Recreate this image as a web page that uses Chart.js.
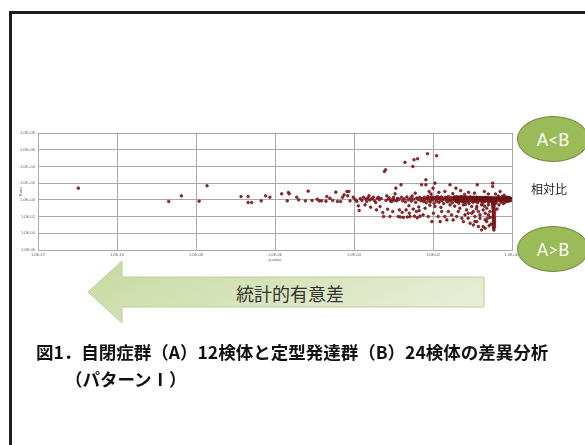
<!DOCTYPE html>
<html lang="ja">
<head>
<meta charset="utf-8">
<script src="https://cdn.jsdelivr.net/npm/chart.js@4/dist/chart.umd.min.js"></script>
<style>
html,body{margin:0;padding:0;background:#fff;}
body{width:585px;height:445px;overflow:hidden;position:relative;font-family:"Noto Sans CJK JP","Noto Sans",sans-serif;}
#plot{position:absolute;left:0;top:0;}
.frame{position:absolute;left:9px;top:11px;width:700px;height:600px;border:3px solid #1e1e1e;box-sizing:border-box;}
.oval{position:absolute;left:517px;width:72px;height:46px;border-radius:50%;background:#9bbb59;border:1.5px solid #71893f;box-sizing:border-box;color:#fff;font:17px Lato,"Open Sans",sans-serif;display:flex;align-items:center;justify-content:center;}
#ovalLess{top:116px;}
#ovalMore{top:226px;}
#ratioLabel{position:absolute;left:531px;top:180px;font-size:12px;color:#222;}
#arrowText{position:absolute;left:190px;width:200px;top:280px;text-align:center;font-size:18px;color:#333;}
.caption{position:absolute;font-weight:700;font-size:17.5px;color:#111;white-space:nowrap;}
#cap1{left:36px;top:339px;}
#cap2{left:65px;top:366px;}
</style>
</head>
<body>
<div class="frame"></div>
<svg style="position:absolute;left:0;top:0" width="585" height="445">
  <defs>
    <linearGradient id="arrowFill" x1="0" y1="0.3" x2="1" y2="0.7">
      <stop offset="0" stop-color="#c9dba4"/>
      <stop offset="1" stop-color="#e8efd9"/>
    </linearGradient>
  </defs>
  <polygon points="88,292 122,261 122,277 484,277 484,307 122,307 122,323" fill="url(#arrowFill)" stroke="#bccf97" stroke-width="1"/>
</svg>
<div id="arrowText">統計的有意差</div>
<canvas id="plot" width="585" height="445"></canvas>
<div class="oval" id="ovalLess">A&lt;B</div>
<div id="ratioLabel">相対比</div>
<div class="oval" id="ovalMore">A&gt;B</div>
<div class="caption" id="cap1">図1．自閉症群（A）12検体と定型発達群（B）24検体の差異分析</div>
<div class="caption" id="cap2">（パターンⅠ）</div>
<script>
// Tick positions, as powers of ten
const pTickExponents = [-12, -10, -8, -6, -4, -2, 0];
const ratioTickExponents = [-6, -4, -2, 0, 2, 4, 6, 8];

// Each entry: [log10(p-value), log10(ratio A/B)]
// isolated features with small p-values
const sparsePairs = [
  [-10.98,1.40],[-8.69,-0.20],[-8.37,0.48],[-7.92,-0.16],[-7.72,1.68],
  [-6.86,0.40],[-6.68,0.40],[-6.68,-0.32],[-6.59,-0.32],[-6.35,-0.12],[-6.24,0.48],[-6.13,0.32],
  [-5.83,0.72],[-5.69,-0.12],[-5.66,0.88],[-5.64,0.72],[-5.45,0.32],[-5.40,0.00],[-5.23,-0.12],[-5.16,1.04],
  [-5.06,-0.08],[-4.93,0.08],[-4.88,-0.12],[-4.82,-0.12],[-4.71,-0.16],[-4.69,0.40],[-4.61,0.20],
  [-4.54,-0.08],[-4.46,0.92],[-4.42,-0.20],[-4.34,-0.20]
];

// features between p = 1e-4.3 and 1e-2.3
const midPairs = [
  [-4.29,0.32],[-4.25,0.60],[-4.18,1.00],[-4.13,1.00],[-4.16,0.48],[-4.10,-0.12],[-4.02,0.32],[-3.97,0.05],
  [-3.93,-0.18],[-3.89,-0.72],[-3.87,-1.28],[-3.84,0.15],[-3.80,-0.05],[-3.76,0.32],[-3.72,-0.60],[-3.70,0.10],
  [-3.68,-0.20],[-3.65,0.22],[-3.62,0.48],[-3.60,-0.02],[-3.58,-0.88],[-3.55,0.12],[-3.51,0.32],[-3.48,-0.10],
  [-3.45,-0.32],[-3.43,-1.20],[-3.41,0.20],[-3.38,0.32],[-3.36,0.02],[-3.34,-0.80],[-3.31,0.15],[-3.27,-1.52],
  [-3.25,-2.00],[-3.23,3.40],[-3.20,3.60],[-3.19,-0.08],[-3.17,0.48],[-3.15,-1.12],[-3.13,0.10],[-3.11,0.25],
  [-3.09,-2.00],[-3.07,-0.15],[-3.05,-0.20],[-3.03,0.05],[-3.02,-1.40],[-3.00,0.30],[-2.98,-0.05],[-2.96,0.72],
  [-2.94,1.40],[-2.92,-0.12],[-2.90,0.18],[-2.88,-2.00],[-2.86,0.05],[-2.85,-1.20],[-2.83,-2.05],[-2.81,1.80],
  [-2.80,0.30],[-2.78,-1.50],[-2.77,-0.10],[-2.75,-2.10],[-2.73,0.12],[-2.71,4.48],[-2.70,-0.25],[-2.68,-1.20],
  [-2.66,0.35],[-2.65,-2.05],[-2.63,0.00],[-2.61,-0.70],[-2.60,-1.60],[-2.58,-2.00],[-2.57,0.20],[-2.55,-0.15],
  [-2.53,0.45],[-2.51,4.00],[-2.50,-1.10],[-2.49,0.08],[-2.48,4.80],[-2.47,-1.95],[-2.45,0.80],[-2.44,-0.30],
  [-2.42,-1.40],[-2.41,0.22],[-2.40,-2.15],[-2.39,4.92],[-2.38,0.05],[-2.36,-0.85],[-2.35,-1.30],[-2.34,0.30],
  [-2.33,-1.95],[-2.31,-0.10],[-2.29,1.80],[-2.28,0.15]
];

// higher ratios among p > 1e-2.3
const upperPairs = [
  [-2.14,5.52],[-1.91,5.28],[-2.18,2.40],[-2.18,1.80],[-1.95,2.00],[-2.00,1.40],[-1.57,1.80],[-1.42,1.40],
  [-0.88,1.80],[-0.49,2.00],[-0.49,1.60],[-1.70,1.00],[-1.30,1.10],[-1.10,0.90],[-0.70,1.00],[-2.10,1.00],
  [-1.85,0.90],[-2.05,0.70],[-1.50,0.75],[-1.20,0.65],[-0.95,0.80],[-0.60,0.70],[-0.42,0.70]
];

// lower ratios among p > 1e-2.3
const lowerPairs = [
  [-2.25,-1.80],[-2.20,-1.00],[-2.12,-2.00],[-2.03,-2.60],[-1.99,-1.60],[-1.95,-0.80],[-1.87,-2.00],[-1.82,-2.60],
  [-1.78,-1.40],[-1.70,-2.00],[-1.65,-2.40],[-1.61,-1.40],[-1.57,-0.60],[-1.53,-1.80],[-1.49,-2.40],[-1.40,-2.00],
  [-1.36,-1.40],[-1.32,-1.00],[-1.27,-2.20],[-1.23,-2.60],[-1.23,-0.60],[-1.19,-1.80],[-1.15,-1.20],[-1.11,-2.20],
  [-1.11,-1.60],[-1.06,-2.80],[-1.02,-1.60],[-1.02,-0.80],[-0.98,-3.00],[-0.98,-1.40],[-0.94,-2.00],[-0.94,-2.60],
  [-0.89,-2.60],[-0.89,-0.80],[-0.85,-1.40],[-0.85,-3.20],[-0.81,-2.20],[-0.81,-1.80],[-0.77,-3.60],[-0.77,-0.60],
  [-0.73,-3.20],[-0.73,-1.20],[-0.68,-2.40],[-0.68,-1.60],[-0.68,-3.40],[-0.64,-2.60],[-0.64,-1.00],[-0.60,-1.80],
  [-0.60,-0.60],[-0.56,-1.40],[-2.08,-0.65],[-1.80,-0.90],[-1.45,-0.75],[-1.18,-0.55],[-0.90,-1.05],[-0.70,-0.75],
  [-0.55,-2.10],[-0.53,-2.90],[-0.58,-3.10],[-0.62,-2.20]
];

// ratios close to 1 for p > 1e-2.3
const bandPairs = [
  [-2.26,0.10],[-2.24,-0.20],[-2.22,0.30],[-2.20,0.02],[-2.17,-0.35],[-2.15,0.18],[-2.13,0.40],[-2.11,-0.08],
  [-2.09,0.25],[-2.07,-0.25],[-2.05,0.12],[-2.03,0.35],[-2.01,-0.02],[-1.99,0.20],[-1.97,-0.40],[-1.95,0.30],
  [-1.93,0.05],[-1.91,-0.15],[-1.89,0.40],[-1.87,0.15],[-1.85,-0.30],[-1.83,0.25],[-1.81,0.00],[-1.79,0.35],
  [-1.77,-0.10],[-1.75,0.20],[-1.73,-0.45],[-1.71,0.10],[-1.69,0.30],[-1.67,-0.05],[-1.65,0.22],[-1.63,-0.25],
  [-1.61,0.40],[-1.59,0.08],[-1.57,-0.12],[-1.55,0.28],[-1.53,0.02],[-1.51,-0.35],[-1.49,0.18],[-1.47,0.35],
  [-1.45,-0.05],[-1.43,0.12],[-1.41,-0.20],[-1.39,0.30],[-1.37,0.05],[-1.35,-0.40],[-1.33,0.20],[-1.31,-0.08],
  [-1.29,0.38],[-1.27,0.10],[-1.25,-0.22],[-1.23,0.25],[-1.21,0.00],[-1.19,-0.30],[-1.17,0.32],[-1.15,0.08],
  [-1.13,-0.15],[-1.11,0.22],[-1.09,-0.45],[-1.07,0.15],[-1.05,0.35],[-1.03,-0.05],[-1.01,0.18],[-0.99,-0.28],
  [-0.97,0.28],[-0.95,0.02],[-0.93,-0.18],[-0.91,0.30],[-0.89,0.10],[-0.87,-0.35],[-0.85,0.20],[-0.83,-0.02],
  [-0.81,0.26],[-0.79,-0.12],[-0.77,0.12],[-0.75,-0.40],[-0.73,0.22],[-0.71,0.05],[-0.69,-0.20],[-0.67,0.30],
  [-0.65,0.08],[-0.63,-0.10],[-0.61,0.18],[-0.59,-0.30],[-0.57,0.12],[-0.55,0.00],[-0.53,0.22],[-0.51,-0.15]
];

// the densest run of features, p from 10^-1.44 to 1
const coreLogP = [
  -1.44,-1.41,-1.38,-1.35,-1.32,-1.29,-1.26,-1.23,-1.20,-1.17,-1.14,-1.11,-1.08,-1.05,-1.02,-0.99,-0.96,
  -0.93,-0.90,-0.87,-0.84,-0.81,-0.78,-0.75,-0.72,-0.69,-0.66,-0.63,-0.60,-0.57,-0.54,-0.51,-0.48,-0.45,
  -0.42,-0.39,-0.36,-0.33,-0.30,-0.27,-0.24,-0.21,-0.18,-0.15,-0.12,-0.09,-0.06,-0.03,0.00
];
const coreUpperLogR = [
  0.34,0.31,0.36,0.30,0.33,0.29,0.34,0.31,0.28,0.32,0.30,0.27,0.31,0.29,0.26,0.30,0.28,
  0.25,0.29,0.27,0.24,0.28,0.26,0.24,0.27,0.25,0.23,0.26,0.24,0.22,0.25,0.23,0.21,0.24,
  0.22,0.20,0.23,0.21,0.19,0.22,0.20,0.18,0.21,0.19,0.17,0.20,0.18,0.16,0.15
];
const coreMidLogR = [
  0.14,0.10,0.16,0.12,0.09,0.15,0.11,0.13,0.08,0.14,0.10,0.12,0.09,0.13,0.11,0.08,0.12,
  0.10,0.13,0.09,0.11,0.08,0.12,0.10,0.09,0.11,0.08,0.10,0.12,0.09,0.11,0.08,0.10,0.09,
  0.11,0.08,0.10,0.09,0.07,0.10,0.08,0.09,0.07,0.09,0.08,0.07,0.08,0.07,0.07
];
const coreLowerLogR = [
  -0.08,-0.12,-0.05,-0.10,-0.14,-0.06,-0.09,-0.12,-0.04,-0.08,-0.11,-0.05,-0.09,-0.07,-0.12,-0.04,-0.08,
  -0.10,-0.05,-0.07,-0.09,-0.04,-0.06,-0.08,-0.03,-0.06,-0.08,-0.04,-0.05,-0.07,-0.03,-0.05,-0.06,-0.02,
  -0.04,-0.05,-0.02,-0.03,-0.04,-0.01,-0.03,-0.02,0.00,-0.02,0.00,0.01,0.00,0.02,0.03
];

// falling run of ratios near p = 0.33
const streakPairs = [
  [-0.51,-0.15],[-0.50,-0.30],[-0.49,-0.45],[-0.49,-0.60],[-0.48,-0.75],[-0.48,-0.90],[-0.48,-1.05],[-0.47,-1.20],
  [-0.47,-1.35],[-0.47,-1.50],[-0.47,-1.65],[-0.47,-1.80],[-0.47,-1.95],[-0.46,-2.10],[-0.46,-2.25],[-0.46,-2.40],
  [-0.46,-2.55],[-0.46,-2.70],[-0.46,-2.85],[-0.46,-3.00],[-0.46,-3.15],[-0.46,-3.30],[-0.46,-3.45],[-0.46,-3.60],
  [-0.44,-0.20],[-0.44,-0.50],[-0.45,-0.80],[-0.45,-1.10],[-0.44,-1.40],[-0.45,-1.70],[-0.44,-2.00],[-0.45,-2.30],
  [-0.44,-2.60],[-0.45,-2.90],[-0.44,-3.20]
];

// remaining features closest to p = 1
const tailPairs = [
  [-0.15,0.32],[-0.12,0.30],[-0.09,0.27],[-0.06,0.24],[-0.10,-0.15],[-0.07,-0.12],[-0.04,-0.08],[-0.13,-0.18],
  [-0.40,-0.35],[-0.33,-0.60],[-0.28,-0.25],[-0.22,-0.45],[-0.18,-0.30],[-0.35,0.45],[-0.25,0.40],[-0.38,-1.10],
  [-0.30,1.00],[-0.20,0.55]
];

const pairs = [...sparsePairs, ...midPairs, ...upperPairs, ...lowerPairs, ...bandPairs, ...streakPairs, ...tailPairs];
coreLogP.forEach((lp, i) => {
  pairs.push([lp, coreUpperLogR[i]], [lp, coreMidLogR[i]], [lp, coreLowerLogR[i]]);
});
const points = pairs.map(([lp, lr]) => ({ x: Math.pow(10, lp), y: Math.pow(10, lr) }));

const sci = (v) => {
  const e = Math.round(Math.log10(v));
  return '1.0E' + (e < 0 ? '-' : '+') + String(Math.abs(e)).padStart(2, '0');
};
const gridGray = '#a9a9a9';
const tickFont = { family: 'Liberation Sans, Arial, sans-serif', size: 4 };

new Chart(document.getElementById('plot'), {
  type: 'scatter',
  data: {
    datasets: [{
      label: 'Ratio',
      data: points,
      pointRadius: 1.3,
      pointBackgroundColor: '#b8262c',
      pointBorderColor: '#4e0c0c',
      pointBorderWidth: 0.7
    }]
  },
  options: {
    responsive: false,
    animation: false,
    devicePixelRatio: 1,
    layout: { padding: { left: 18, top: 133, right: 73, bottom: 183 } },
    plugins: { legend: { display: false }, tooltip: { enabled: false } },
    scales: {
      x: {
        type: 'logarithmic',
        min: 1e-12,
        max: 1,
        afterBuildTicks: (s) => { s.ticks = pTickExponents.map(e => ({ value: Math.pow(10, e) })); },
        afterFit: (s) => { s.height = 12; },
        grid: { color: gridGray, lineWidth: 1, drawTicks: false },
        border: { color: gridGray },
        ticks: { callback: (v) => sci(v), font: tickFont, color: '#666', padding: 2, autoSkip: false, maxRotation: 0 },
        title: { display: true, text: 'p-value', font: tickFont, color: '#666', padding: 0 }
      },
      y: {
        type: 'logarithmic',
        min: 1e-6,
        max: 1e8,
        afterBuildTicks: (s) => { s.ticks = ratioTickExponents.map(e => ({ value: Math.pow(10, e) })); },
        afterFit: (s) => { s.width = 20; },
        grid: { color: gridGray, lineWidth: 1, drawTicks: false },
        border: { color: gridGray },
        ticks: { callback: (v) => sci(v), font: tickFont, color: '#666', padding: 3, autoSkip: false },
        title: { display: true, text: 'Ratio', font: tickFont, color: '#666', padding: 0 }
      }
    }
  }
});
</script>
</body>
</html>
